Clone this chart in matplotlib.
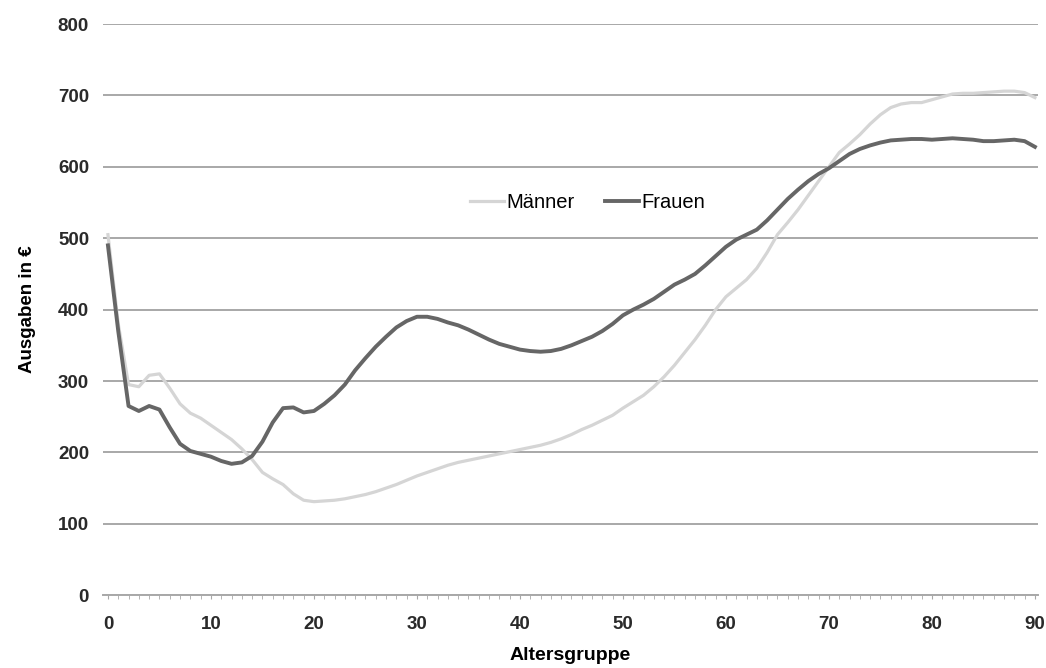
import numpy as np
import matplotlib.pyplot as plt
from matplotlib.ticker import MultipleLocator

# Ausgaben je Altersgruppe (0..90)
alter = np.arange(0, 91)
frauen = [490, 370, 265, 258, 265, 260, 235, 212, 202, 198,
          194, 188, 184, 186, 195, 215, 242, 262, 263, 256,
          258, 268, 280, 295, 315, 332, 348, 362, 375, 384,
          390, 390, 387, 382, 378, 372, 365, 358, 352, 348,
          344, 342, 341, 342, 345, 350, 356, 362, 370, 380,
          392, 400, 407, 415, 425, 435, 442, 450, 462, 475,
          488, 498, 505, 512, 525, 540, 555, 568, 580, 590,
          598, 608, 618, 625, 630, 634, 637, 638, 639, 639,
          638, 639, 640, 639, 638, 636, 636, 637, 638, 636, 628]
maenner = [505, 380, 295, 292, 308, 310, 290, 268, 255, 248,
           238, 228, 218, 205, 190, 172, 163, 155, 142, 133,
           131, 132, 133, 135, 138, 141, 145, 150, 155, 161,
           167, 172, 177, 182, 186, 189, 192, 195, 198, 201,
           204, 207, 210, 214, 219, 225, 232, 238, 245, 252,
           262, 271, 280, 292, 306, 322, 340, 358, 378, 400,
           418, 430, 442, 458, 480, 505, 522, 540, 560, 580,
           600, 620, 632, 645, 660, 673, 683, 688, 690, 690,
           694, 698, 702, 703, 703, 704, 705, 706, 706, 704, 697]

plt.rcParams['font.family'] = ['Liberation Sans', 'DejaVu Sans']

fig = plt.figure(figsize=(10.46, 6.68), dpi=100)
ax = fig.add_axes([103 / 1046, 0.109, 935 / 1046, 0.855])

ax.plot(alter, maenner, color='#d5d5d5', lw=2.3, label='Männer')
ax.plot(alter, frauen, color='#666666', lw=2.8, label='Frauen')

ax.set_xlim(-0.48, 90.3)
ax.set_ylim(0, 800)
ax.set_yticks(range(0, 801, 100))
ax.set_xticks(range(0, 91, 10))
ax.xaxis.set_minor_locator(MultipleLocator(1))
ax.yaxis.grid(True, color='#a8a8a8', lw=1.4)
ax.set_axisbelow(True)

for s in ['top', 'right', 'left']:
    ax.spines[s].set_visible(False)
ax.spines['bottom'].set_color('#a8a8a8')
ax.spines['bottom'].set_linewidth(1.4)

ax.tick_params(axis='y', length=0, pad=10, labelsize=13.5, labelcolor='#2a2a2a')
ax.tick_params(axis='x', which='both', direction='out', length=3,
               color='#a8a8a8', labelsize=13.5, labelcolor='#2a2a2a', pad=12)
for lab in ax.get_xticklabels() + ax.get_yticklabels():
    lab.set_fontweight('bold')

ax.set_xlabel('Altersgruppe', fontsize=14, fontweight='bold', labelpad=10)
ax.set_ylabel('Ausgaben in €', fontsize=13.5, fontweight='bold', labelpad=16)

ax.legend(loc='center', bbox_to_anchor=(0.518, 0.688), ncol=2, frameon=False,
          fontsize=14.5, handlelength=1.7, handletextpad=0.1, columnspacing=1.5)

plt.savefig('out.png', dpi=100)
plt.close()
